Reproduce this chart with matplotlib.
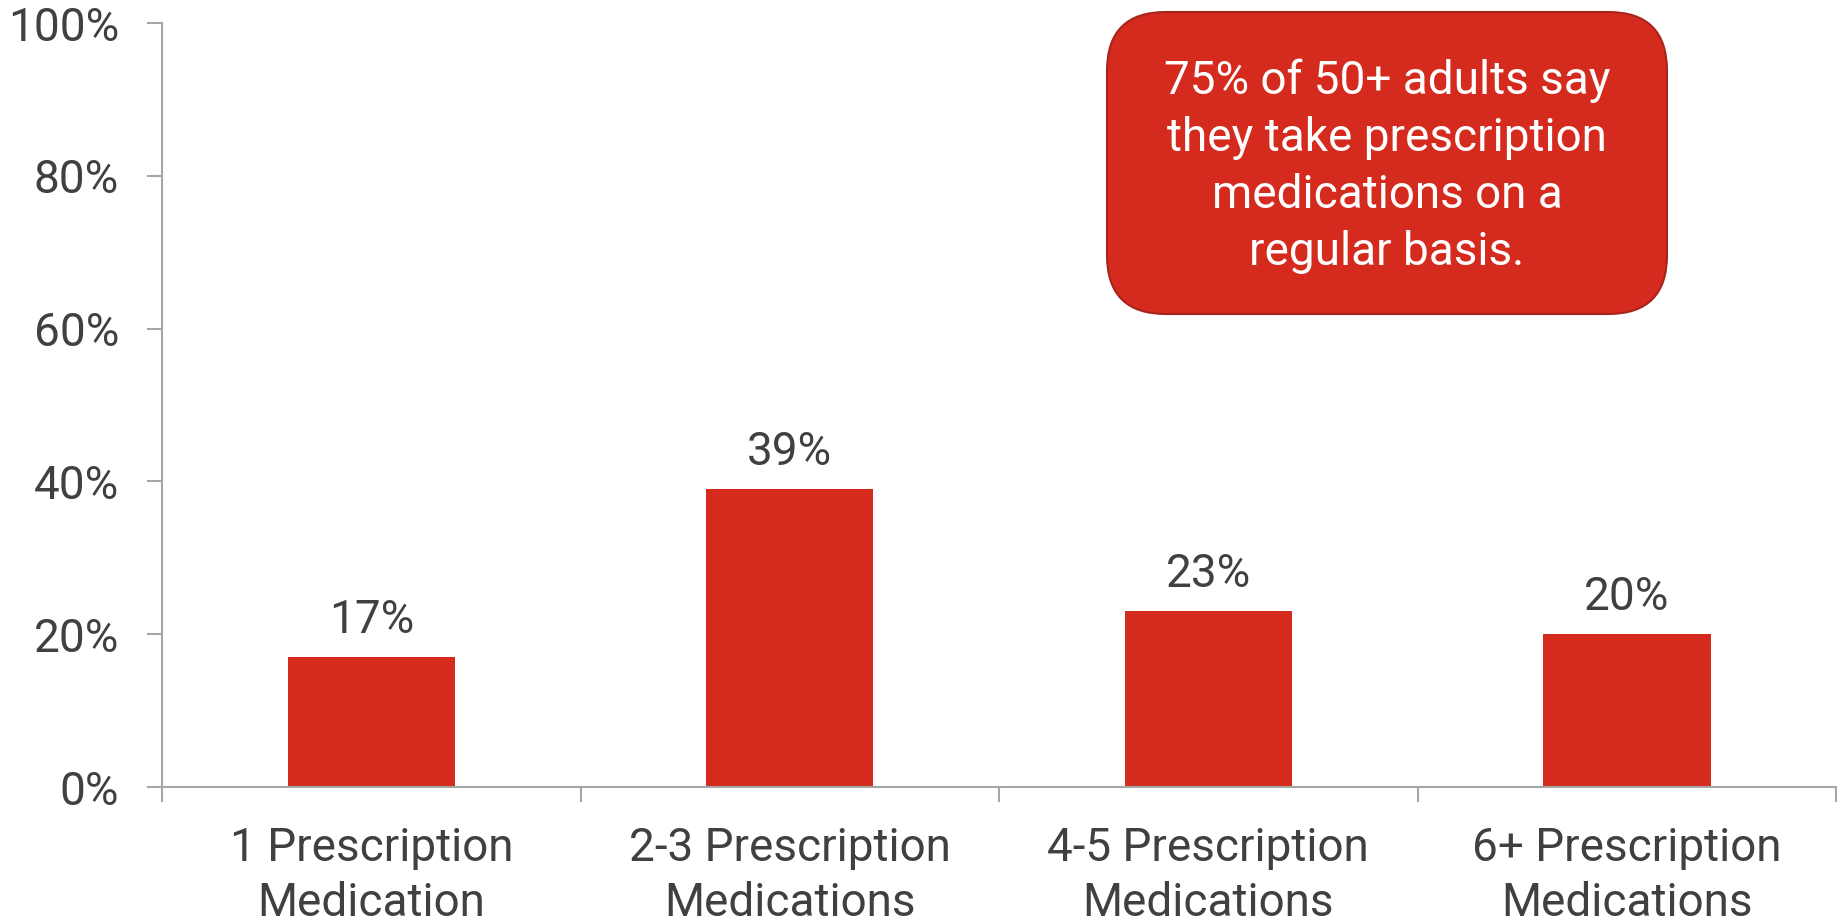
import matplotlib
matplotlib.use("Agg")
import matplotlib.pyplot as plt
from matplotlib.patches import FancyBboxPatch

categories = ["1 Prescription\nMedication", "2-3 Prescription\nMedications",
              "4-5 Prescription\nMedications", "6+ Prescription\nMedications"]
values = [17, 39, 23, 20]
y_ticks = [0, 20, 40, 60, 80, 100]
callout = "75% of 50+ adults say\nthey take prescription\nmedications on a\nregular basis."

RED = "#D52B1E"
TEXT = "#404040"
AXIS = "#A6A6A6"

plt.rcParams["font.family"] = ["Roboto", "DejaVu Sans"]

fig = plt.figure(figsize=(18.37, 9.22), dpi=100)
ax = fig.add_axes([0.0882, 0.1464, 0.9113, 0.8286])

x = list(range(len(values)))
bars = ax.bar(x, values, width=0.40, color=RED, zorder=2)

for xi, v in zip(x, values):
    ax.annotate(f"{v}%", (xi, v), xytext=(0, 11), textcoords="offset points",
                ha="center", va="bottom", fontsize=33, color=TEXT)

ax.set_xlim(-0.5, len(values) - 0.5)
ax.set_ylim(0, 100)

ax.set_yticks(y_ticks)
ax.set_yticklabels([f"{t}%" for t in y_ticks])
ax.tick_params(axis="y", labelsize=33, colors=AXIS, labelcolor=TEXT,
               length=11, width=1.5, pad=20)

# category labels at centres, boundary ticks as minor ticks
ax.set_xticks(x)
ax.set_xticklabels(categories, linespacing=1.32)
ax.tick_params(axis="x", which="major", length=0, labelsize=33,
               labelcolor=TEXT, pad=28)
ax.set_xticks([i - 0.5 for i in range(len(values) + 1)], minor=True)
ax.tick_params(axis="x", which="minor", length=11, width=1.5, colors=AXIS)

for side in ["top", "right"]:
    ax.spines[side].set_visible(False)
for side in ["left", "bottom"]:
    ax.spines[side].set_color(AXIS)
    ax.spines[side].set_linewidth(1.5)

# callout box
bx0, by0, bw, bh = 1107 / 1837, 1 - 314 / 922, 560 / 1837, 302 / 922
box = FancyBboxPatch((bx0, by0), bw, bh, transform=fig.transFigure,
                     boxstyle="round,pad=0,rounding_size=0.032",
                     facecolor=RED, edgecolor="#A8241A", linewidth=1.5,
                     mutation_aspect=1837 / 922)
fig.patches.append(box)
fig.text(bx0 + bw / 2, by0 + bh / 2 - 0.004, callout, ha="center", va="center",
         fontsize=33, color="white", linespacing=1.37)

fig.savefig("out.png", dpi=100)
